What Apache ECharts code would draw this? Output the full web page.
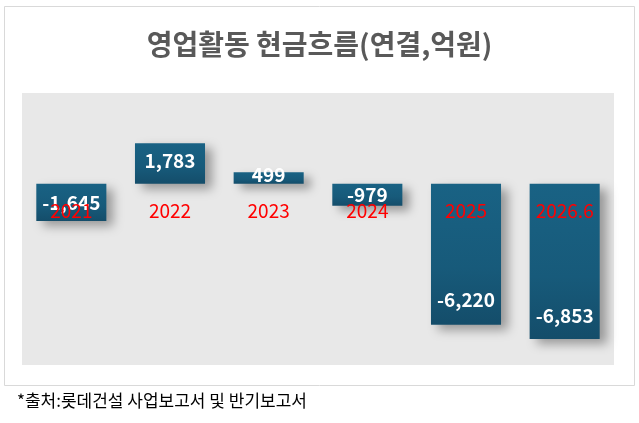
<!DOCTYPE html>
<html>
<head>
<meta charset="utf-8">
<script src="https://cdn.jsdelivr.net/npm/echarts@6/dist/echarts.min.js"></script>
<style>
html,body{margin:0;padding:0;background:#fff;}
#c{width:639px;height:423px;}
</style>
</head>
<body>
<div id="c"></div>
<script>
const titleText = '영업활동 현금흐름(연결,억원)';
const sourceText = '*출처:롯데건설 사업보고서 및 반기보고서';
const categories = ['2021', '2022', '2023', '2024', '2025', '2026.6'];
const values = [-1645, 1783, 499, -979, -6220, -6853];
const labelOffsets = [0, -3, -3, 0, 46, 54];
const yMin = -8000, yMax = 4000;

const chart = echarts.init(document.getElementById('c'));
const fmt = v => v.toLocaleString('en-US');
const gridTop = 93, gridBottom = 58, chartH = 423;
const plotH = chartH - gridTop - gridBottom;
const zeroFromBottom = plotH * (0 - yMin) / (yMax - yMin);
chart.setOption({
  animation: false,
  backgroundColor: '#fff',
  title: {
    text: titleText,
    left: 'center',
    top: 25,
    textStyle: { fontFamily: 'Noto Sans CJK KR', fontSize: 28, fontWeight: 'bold', color: '#595959' }
  },
  graphic: [
    { type: 'rect', shape: { x: 4.5, y: 6.5, width: 630, height: 379 }, style: { fill: 'none', stroke: '#d9d9d9', lineWidth: 1 }, z: -10 },
    { type: 'text', left: 17, top: 392, style: { text: sourceText, fontFamily: 'Noto Sans CJK KR', fontSize: 17, fill: '#000' } }
  ],
  grid: { left: 22, right: 25, top: gridTop, bottom: gridBottom, show: true, backgroundColor: '#e8e8e8', borderWidth: 0 },
  xAxis: {
    type: 'category',
    data: categories,
    z: 10,
    position: 'bottom',
    offset: -zeroFromBottom,
    axisLine: { show: false, onZero: false },
    axisTick: { show: false },
    axisLabel: { color: '#ff0000', fontSize: 19, fontFamily: 'Noto Sans CJK KR', margin: 18 }
  },
  yAxis: {
    type: 'value',
    min: yMin,
    max: yMax,
    interval: 4000,
    axisLine: { show: false },
    axisTick: { show: false },
    axisLabel: { show: false },
    splitLine: { show: false }
  },
  series: [{
    type: 'bar',
    barWidth: '71%',
    data: values.map((v, i) => ({
      value: v,
      label: { offset: [0, labelOffsets[i]] }
    })),
    itemStyle: {
      color: new echarts.graphic.LinearGradient(0, 0, 0, 1, [
        { offset: 0, color: '#196284' },
        { offset: 0.6, color: '#175a7a' },
        { offset: 1, color: '#144d6a' }
      ]),
      shadowColor: 'rgba(0,0,0,0.35)',
      shadowBlur: 10,
      shadowOffsetX: 7,
      shadowOffsetY: 5
    },
    label: {
      show: true,
      position: 'inside',
      color: '#fff',
      fontSize: 19,
      fontWeight: 'bold',
      fontFamily: 'Noto Sans CJK KR',
      formatter: p => fmt(p.value)
    }
  }]
});
</script>
</body>
</html>
